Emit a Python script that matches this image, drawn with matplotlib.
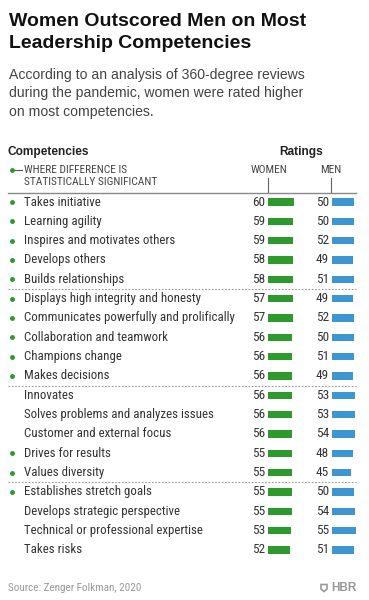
import matplotlib.pyplot as plt
from matplotlib.patches import Polygon

competencies = [
    "Takes initiative", "Learning agility", "Inspires and motivates others",
    "Develops others", "Builds relationships", "Displays high integrity and honesty",
    "Communicates powerfully and prolifically", "Collaboration and teamwork",
    "Champions change", "Makes decisions", "Innovates",
    "Solves problems and analyzes issues", "Customer and external focus",
    "Drives for results", "Values diversity", "Establishes stretch goals",
    "Develops strategic perspective", "Technical or professional expertise",
    "Takes risks",
]
women = [60, 59, 59, 58, 58, 57, 57, 56, 56, 56, 56, 56, 56, 55, 55, 55, 55, 53, 52]
men = [50, 50, 52, 49, 51, 49, 52, 50, 51, 49, 53, 53, 54, 48, 45, 50, 54, 55, 51]
significant = [1, 1, 1, 1, 1, 1, 1, 1, 1, 1, 0, 0, 0, 1, 1, 1, 0, 0, 0]
dividers = [4.5, 9.5, 14.5]

GREEN = "#2e9a2e"
BLUE = "#3d95d2"
NARROW = ["Roboto Condensed", "Liberation Sans Narrow", "DejaVu Sans"]
HEAD = ["Liberation Sans", "DejaVu Sans"]
W, H = 369, 600
ROW0, STEP = 202, 19.33

fig = plt.figure(figsize=(W / 100, H / 100), dpi=100)
fig.patch.set_facecolor("white")


def fx(px):
    return px / W


def fy(py):
    return 1 - py / H


ylim = ((H - ROW0) / STEP, -ROW0 / STEP)

ax = fig.add_axes([0, 0, 1, 1])
ax.set_xlim(0, W)
ax.set_ylim(*ylim)
ax.axis("off")

# titles
fig.text(fx(9), fy(22), "Women Outscored Men on Most", fontsize=14, fontweight="bold",
         family=HEAD, va="center", color="#111111")
fig.text(fx(9), fy(44), "Leadership Competencies", fontsize=14, fontweight="bold",
         family=HEAD, va="center", color="#111111")
for i, line in enumerate(["According to an analysis of 360-degree reviews",
                          "during the pandemic, women were rated higher",
                          "on most competencies."]):
    fig.text(fx(9), fy(75 + 18.5 * i), line, fontsize=10.1, family=HEAD,
             va="center", color="#444444")

# header
fig.text(fx(8), fy(152), "Competencies", fontsize=8.6, fontweight="bold",
         family=HEAD, va="center", color="#222222")
fig.text(fx(301), fy(152), "Ratings", fontsize=8.6, fontweight="bold",
         family=HEAD, va="center", ha="center", color="#222222")
fig.text(fx(24), fy(170), "WHERE DIFFERENCE IS", fontsize=8.2, family=NARROW,
         va="center", color="#444444")
fig.text(fx(24), fy(182), "STATISTICALLY SIGNIFICANT", fontsize=8.2, family=NARROW,
         va="center", color="#444444")
fig.text(fx(269), fy(170), "WOMEN", fontsize=8.2, family=NARROW, va="center",
         ha="center", color="#444444")
fig.text(fx(331), fy(170), "MEN", fontsize=8.2, family=NARROW, va="center",
         ha="center", color="#444444")
fig.add_artist(plt.Line2D([fx(12), fx(22)], [fy(170), fy(170)], color="#555555", lw=0.8))
fig.add_artist(plt.Line2D([fx(12)], [fy(170)], marker="o", ms=2.5, color=GREEN, lw=0))
for x in (268, 331):
    fig.add_artist(plt.Line2D([fx(x), fx(x)], [fy(178), fy(192)], color="#666666", lw=0.8))
fig.add_artist(plt.Line2D([fx(8), fx(356)], [fy(193), fy(193)], color="#888888", lw=1))

# rows
for i, name in enumerate(competencies):
    ax.text(24, i, name, fontsize=9.3, family=NARROW, va="center", color="#333333")
    if significant[i]:
        ax.plot(12, i, "o", ms=2.5, color=GREEN)
    ax.text(265, i, str(women[i]), fontsize=9.5, family=NARROW, va="center",
            ha="right", color="#333333")
    ax.text(329, i, str(men[i]), fontsize=9.5, family=NARROW, va="center",
            ha="right", color="#333333")
for d in dividers:
    ax.plot([8, 356], [d, d], color="#999999", lw=0.8, ls=(0, (1.5, 1.5)))

# bars
for left, vals, col in ((268, women, GREEN), (332, men, BLUE)):
    bx = fig.add_axes([fx(left), 0, 43 / W, 1])
    bx.set_xlim(0, 100)
    bx.set_ylim(*ylim)
    bx.axis("off")
    bx.barh(range(len(vals)), vals, height=7.5 / STEP, color=col)

# footer
fig.text(fx(8), fy(588), "Source: Zenger Folkman, 2020", fontsize=8, family=NARROW,
         va="center", color="#999999")
fig.text(fx(357), fy(588), "HBR", fontsize=8.5, fontweight="bold", family=HEAD,
         va="center", ha="right", color="#999999")
fig.add_artist(Polygon([[fx(321), fy(584.5)], [fx(327), fy(584.5)], [fx(327), fy(589)],
                        [fx(324), fy(591.5)], [fx(321), fy(589)]], closed=True,
                       facecolor="white", edgecolor="#999999", lw=1.2))

fig.savefig("out.png", dpi=100, facecolor="white")
